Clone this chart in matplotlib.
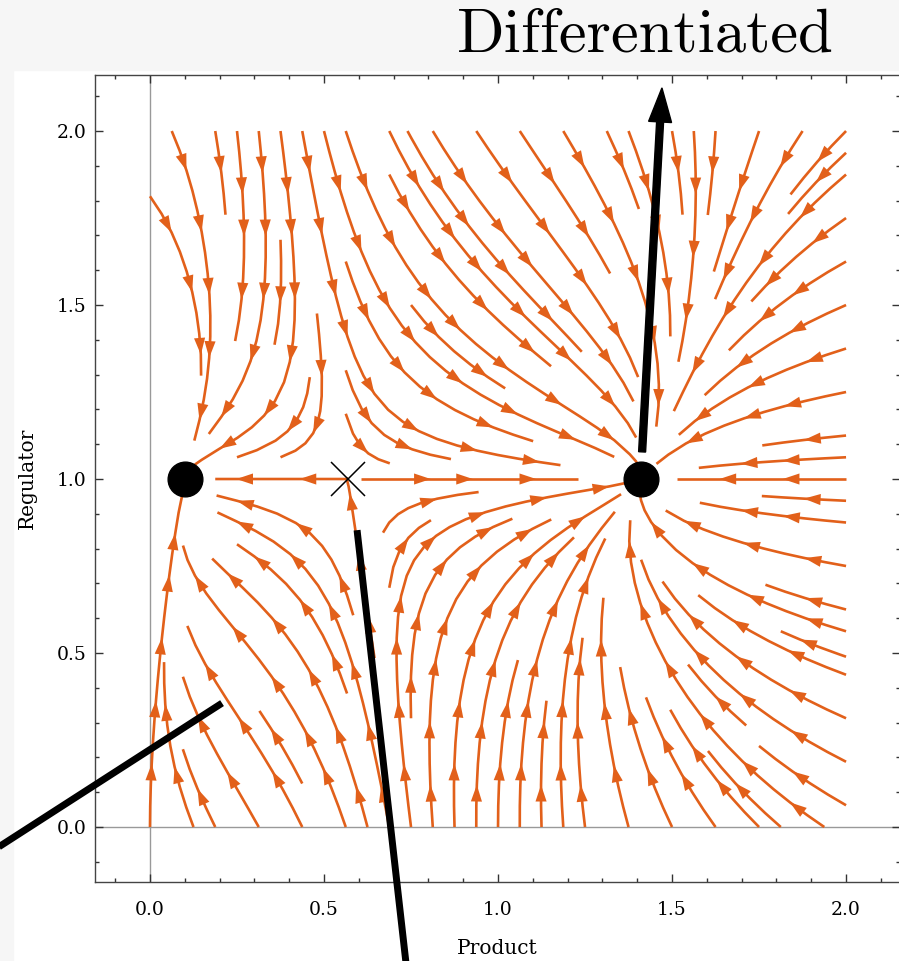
import numpy as np
import matplotlib
matplotlib.use('Agg')
import matplotlib.pyplot as plt
from matplotlib.patches import Rectangle, FancyArrow, FancyArrowPatch
from matplotlib.ticker import MultipleLocator

basal = 0.08      # regulator driven basal production of product
vmax = 2.0        # max of self activation
decay_reg = 0.24  # relaxation rate of the regulator towards 1

stable_x = [0.1, 1.41]
stable_y = [1.0, 1.0]
saddle_x = [0.57]
saddle_y = [1.0]

x_ticks = [0.0, 0.5, 1.0, 1.5, 2.0]
y_ticks = [0.0, 0.5, 1.0, 1.5, 2.0]
x_lim = (-0.158, 2.155)
y_lim = (-0.158, 2.161)

title = 'Differentiated'
x_label = 'Product'
y_label = 'Regulator'

# black pointer lines, data coords (they run outside the frame)
arrow_tail = (1.414, 1.078)
arrow_tip = (1.471, 2.124)
pointer_a = ([-0.47, 0.207], [-0.08, 0.356])
pointer_b = ([0.595, 0.740], [0.853, -0.43])

orange = '#e2601a'
arrow_gap = 0.17   # spacing of arrow heads along a stream line

fig = plt.figure(figsize=(8.99, 9.61), dpi=100)
fig.patch.set_facecolor('white')
# faint textured band at top and left edge
fig.add_artist(Rectangle((0, 891/961), 1, 70/961, transform=fig.transFigure,
                         color='#f6f6f6', zorder=0))
fig.add_artist(Rectangle((0, 0), 13/899, 891/961, transform=fig.transFigure,
                         color='#f6f6f6', zorder=0))

ax = fig.add_axes([95/899, 79/961, 805/899, 807/961])
ax.set_xlim(*x_lim)
ax.set_ylim(*y_lim)

X, Y = np.meshgrid(np.linspace(0, 2, 200), np.linspace(0, 2, 200))
U = basal*Y + vmax*X**2/(1 + X**2) - X
V = decay_reg*(1 - Y)

sp = ax.streamplot(X, Y, U, V, density=1.1, color=orange, linewidth=1.9,
                   arrowsize=1.5, arrowstyle='-|>', zorder=2)
# drop the single mid arrow, several are drawn below instead
for p in list(ax.patches):
    p.remove()

# put several arrow heads along every stream line
for tr in sp.lines.get_segments():
    tr = np.asarray(tr)
    if len(tr) < 3:
        continue
    d = np.hypot(np.diff(tr[:, 0]), np.diff(tr[:, 1]))
    s = np.concatenate([[0], np.cumsum(d)])
    if s[-1] < 0.07:
        continue
    n = max(1, int(s[-1] / arrow_gap))
    offs = (s[-1] - (n - 1)*arrow_gap) / 2
    for k in range(n):
        pos = offs + k*arrow_gap
        i = int(np.clip(np.searchsorted(s, pos), 1, len(tr) - 1))
        a = FancyArrowPatch(tr[i - 1], tr[i],
                            arrowstyle='-|>,head_length=0.6,head_width=0.2',
                            mutation_scale=20, color=orange, lw=0,
                            shrinkA=0, shrinkB=0, zorder=2)
        ax.add_patch(a)

ax.axhline(0, color='#999999', lw=1, zorder=1)
ax.axvline(0, color='#999999', lw=1, zorder=1)

ax.plot(stable_x, stable_y, 'o', color='black', markersize=25, zorder=4)
ax.plot(saddle_x, saddle_y, 'x', color='black', markersize=25,
        markeredgewidth=1.1, zorder=4)

ax.add_patch(FancyArrow(arrow_tail[0], arrow_tail[1],
                        arrow_tip[0]-arrow_tail[0], arrow_tip[1]-arrow_tail[1],
                        width=0.02, head_width=0.066, head_length=0.098,
                        length_includes_head=True, color='black',
                        clip_on=False, zorder=5))
ax.plot(pointer_a[0], pointer_a[1], color='black', lw=5,
        solid_capstyle='butt', clip_on=False, zorder=5)
ax.plot(pointer_b[0], pointer_b[1], color='black', lw=5,
        solid_capstyle='butt', clip_on=False, zorder=5)

ax.set_xticks(x_ticks)
ax.set_yticks(y_ticks)
ax.set_xticklabels(['%.1f' % t for t in x_ticks], family='DejaVu Serif', fontsize=13.5)
ax.set_yticklabels(['%.1f' % t for t in y_ticks], family='DejaVu Serif', fontsize=13.5)
ax.xaxis.set_minor_locator(MultipleLocator(0.1))
ax.yaxis.set_minor_locator(MultipleLocator(0.1))
ax.tick_params(which='both', direction='in', top=True, right=True, width=1,
               color='#333333')
ax.tick_params(which='major', length=6)
ax.tick_params(which='minor', length=3)
ax.tick_params(axis='x', which='major', pad=14)
ax.tick_params(axis='y', which='major', pad=6)
for sp_ in ax.spines.values():
    sp_.set_color('#444444')
    sp_.set_linewidth(1)

ax.set_xlabel(x_label, family='DejaVu Serif', fontsize=14.5, labelpad=14)
ax.set_ylabel(y_label, family='DejaVu Serif', fontsize=14.5, labelpad=14)

fig.text(834/899, 1 - 36/961, title, family='cmr10', fontsize=45,
         ha='right', va='center')

fig.savefig('out.png', dpi=100)
